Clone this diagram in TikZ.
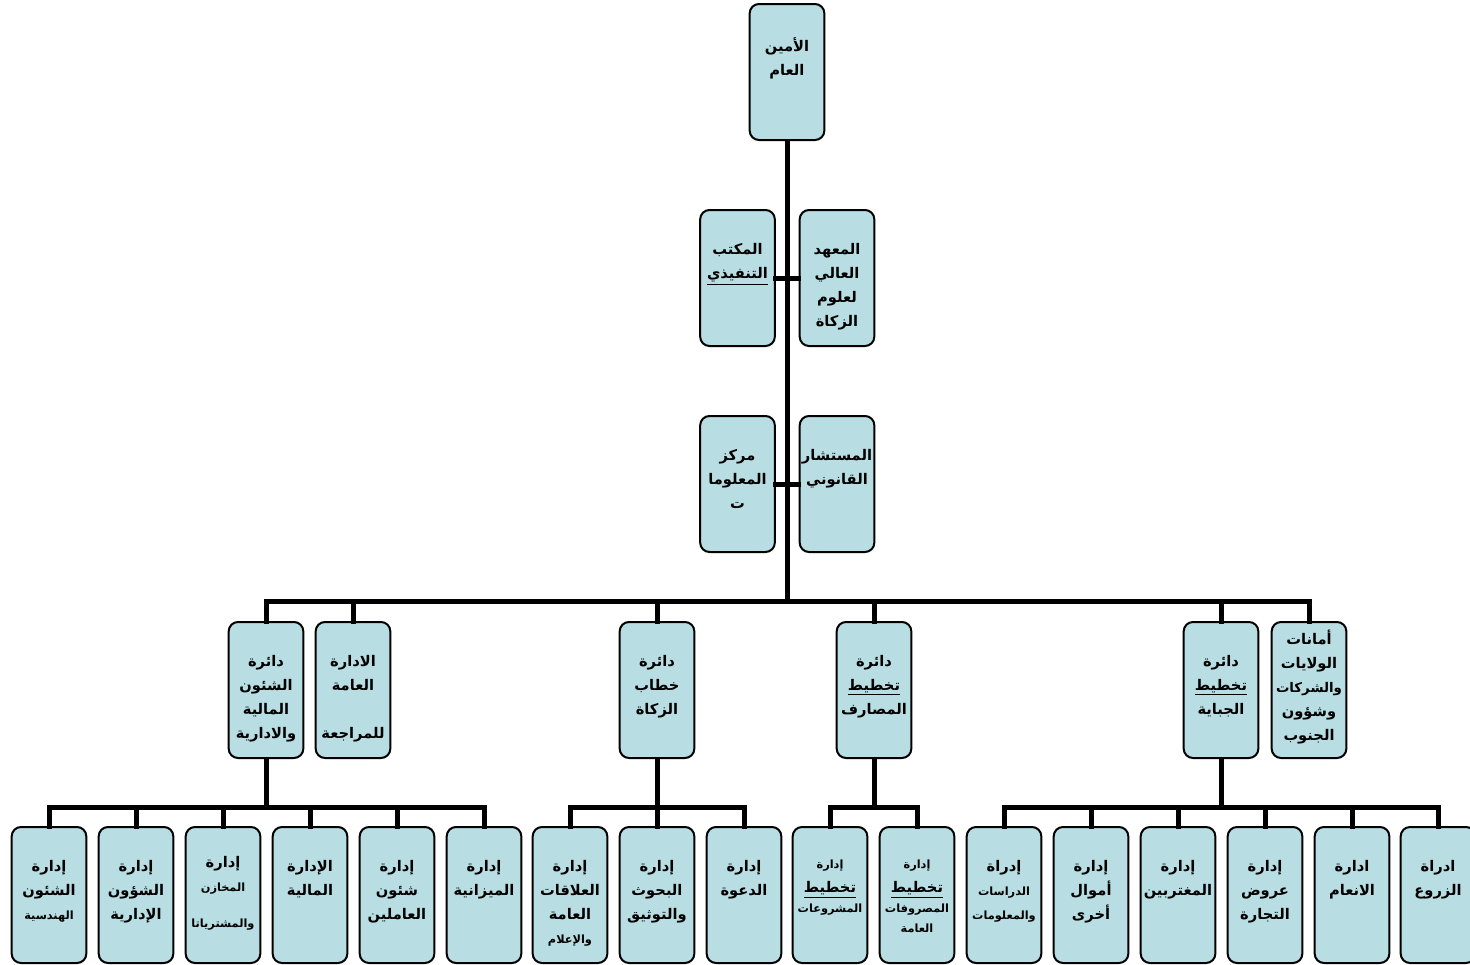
\documentclass[tikz,border=0pt]{standalone}
\usepackage{fontspec}
\newfontfamily\arabicfont[Script=Arabic]{DejaVu Sans}
\TeXXeTstate=1
\definecolor{boxfill}{RGB}{184,222,227}
\newcommand\rl[1]{\beginR#1\endR}
\newcommand\ulr[1]{\underline{\hbox{\beginR#1\endR}}}
\newcommand\sm[1]{{\fontsize{8.5}{18}\selectfont\beginR#1\endR}}
\newcommand\md[1]{{\fontsize{10}{18}\selectfont\beginR#1\endR}}
\tikzset{
  unit/.style={draw=black, line width=1.5pt, rounded corners=7pt, fill=boxfill,
    minimum width=56pt, minimum height=102pt, inner sep=0pt},
  txt/.style={anchor=north, yshift=-25.5pt, align=center, inner sep=0pt,
    font=\arabicfont\bfseries\fontsize{11}{18}\selectfont},
  link/.style={line width=3.75pt, line cap=rect}
}
\begin{document}
\begin{tikzpicture}[x=0.75pt,y=-0.75pt]
  \useasboundingbox (0,0) rectangle (1470,964);

  % top
  \node[unit, label={[txt]north:{\rl{الأمين}\\\rl{العام}}}] (gs) at (787,72) {};

  % staff units beside the trunk
  \node[unit, label={[txt]north:{\rl{المكتب}\\\ulr{التنفيذي}}}] (exec) at (737.5,278) {};
  \node[unit, label={[txt]north:{\rl{المعهد}\\\rl{العالي}\\\rl{لعلوم}\\\rl{الزكاة}}}] (inst) at (837,278) {};
  \node[unit, label={[txt]north:{\rl{مركز}\\\rl{المعلوما}\\\rl{ت}}}] (info) at (737.5,484) {};
  \node[unit, label={[txt]north:{\rl{المستشار}\\\rl{القانوني}}}] (legal) at (837,484) {};

  % circles
  \node[unit, label={[txt]north:{\rl{دائرة}\\\rl{الشئون}\\\rl{المالية}\\\rl{والادارية}}}] (fin) at (266,690) {};
  \node[unit, label={[txt]north:{\rl{الادارة}\\\rl{العامة}\\ \\\rl{للمراجعة}}}] (audit) at (353,690) {};
  \node[unit, label={[txt]north:{\rl{دائرة}\\\rl{خطاب}\\\rl{الزكاة}}}] (khitab) at (657,690) {};
  \node[unit, label={[txt]north:{\rl{دائرة}\\\ulr{تخطيط}\\\rl{المصارف}}}] (masarif) at (874,690) {};
  \node[unit, label={[txt]north:{\rl{دائرة}\\\ulr{تخطيط}\\\rl{الجباية}}}] (jibaya) at (1221,690) {};
  \node[unit, label={[txt, yshift=19pt]north:{\rl{أمانات}\\\rl{الولايات}\\\md{والشركات}\\\rl{وشؤون}\\\rl{الجنوب}}}] (states) at (1309,690) {};

  % departments of the finance circle
  \node[unit, label={[txt]north:{\rl{إدارة}\\\rl{الشئون}\\\sm{الهندسية}}}] (eng) at (49,895) {};
  \node[unit, label={[txt]north:{\rl{إدارة}\\\rl{الشؤون}\\\rl{الإدارية}}}] (admin) at (136,895) {};
  \node[unit, label={[txt, yshift=3pt]north:{\rl{إدارة}\\\sm{المخازن}\\[9pt]\sm{والمشترياتا}}}] (stores) at (223,895) {};
  \node[unit, label={[txt]north:{\rl{الإدارة}\\\rl{المالية}}}] (finad) at (310,895) {};
  \node[unit, label={[txt]north:{\rl{إدارة}\\\rl{شئون}\\\rl{العاملين}}}] (staff) at (397,895) {};
  \node[unit, label={[txt]north:{\rl{إدارة}\\\rl{الميزانية}}}] (budget) at (484,895) {};

  % departments of the zakat speech circle
  \node[unit, label={[txt]north:{\rl{إدارة}\\\rl{العلاقات}\\\rl{العامة}\\\sm{والإعلام}}}] (pr) at (570,895) {};
  \node[unit, label={[txt]north:{\rl{إدارة}\\\rl{البحوث}\\\rl{والتوثيق}}}] (research) at (657,895) {};
  \node[unit, label={[txt]north:{\rl{إدارة}\\\rl{الدعوة}}}] (dawa) at (744,895) {};

  % departments of the spending circle
  \node[unit, label={[txt]north:{\sm{إدارة}\\\ulr{تخطيط}\\[-3pt]\sm{المشروعات}}}] (projects) at (830,895) {};
  \node[unit, label={[txt]north:{\sm{إدارة}\\\ulr{تخطيط}\\[-3pt]\sm{المصروفات}\\[-3pt]\sm{العامة}}}] (expend) at (917,895) {};

  % departments of the collection circle
  \node[unit, label={[txt]north:{\rl{إدراة}\\\sm{الدراسات}\\\sm{والمعلومات}}}] (studies) at (1004,895) {};
  \node[unit, label={[txt]north:{\rl{إدارة}\\\rl{أموال}\\\rl{أخرى}}}] (other) at (1091,895) {};
  \node[unit, label={[txt]north:{\rl{إدارة}\\\rl{المغتربين}}}] (expat) at (1178,895) {};
  \node[unit, label={[txt]north:{\rl{إدارة}\\\rl{عروض}\\\rl{التجارة}}}] (trade) at (1265,895) {};
  \node[unit, label={[txt]north:{\rl{ادارة}\\\rl{الانعام}}}] (livestock) at (1352,895) {};
  \node[unit, label={[txt]north:{\rl{ادراة}\\\rl{الزروع}}}] (crops) at (1438,895) {};

  % trunk and main bus
  \coordinate (bus) at (787,601);
  \draw[link] (gs.south) -- (gs.south |- bus);
  \draw[link] (exec.east) -- (inst.west);
  \draw[link] (info.east) -- (legal.west);
  \draw[link] (fin.north |- bus) -- (states.north |- bus);
  \draw[link] (fin.north) -- (fin.north |- bus);
  \draw[link] (audit.north) -- (audit.north |- bus);
  \draw[link] (khitab.north) -- (khitab.north |- bus);
  \draw[link] (masarif.north) -- (masarif.north |- bus);
  \draw[link] (jibaya.north) -- (jibaya.north |- bus);
  \draw[link] (states.north) -- (states.north |- bus);

  % lower buses
  \coordinate (sub) at (0,807);
  \draw[link] (fin.south) -- (fin.south |- sub);
  \draw[link] (eng.north |- sub) -- (budget.north |- sub);
  \draw[link] (eng.north) -- (eng.north |- sub);
  \draw[link] (admin.north) -- (admin.north |- sub);
  \draw[link] (stores.north) -- (stores.north |- sub);
  \draw[link] (finad.north) -- (finad.north |- sub);
  \draw[link] (staff.north) -- (staff.north |- sub);
  \draw[link] (budget.north) -- (budget.north |- sub);

  \draw[link] (khitab.south) -- (khitab.south |- sub);
  \draw[link] (pr.north |- sub) -- (dawa.north |- sub);
  \draw[link] (pr.north) -- (pr.north |- sub);
  \draw[link] (research.north) -- (research.north |- sub);
  \draw[link] (dawa.north) -- (dawa.north |- sub);

  \draw[link] (masarif.south) -- (masarif.south |- sub);
  \draw[link] (projects.north |- sub) -- (expend.north |- sub);
  \draw[link] (projects.north) -- (projects.north |- sub);
  \draw[link] (expend.north) -- (expend.north |- sub);

  \draw[link] (jibaya.south) -- (jibaya.south |- sub);
  \draw[link] (studies.north |- sub) -- (crops.north |- sub);
  \draw[link] (studies.north) -- (studies.north |- sub);
  \draw[link] (other.north) -- (other.north |- sub);
  \draw[link] (expat.north) -- (expat.north |- sub);
  \draw[link] (trade.north) -- (trade.north |- sub);
  \draw[link] (livestock.north) -- (livestock.north |- sub);
  \draw[link] (crops.north) -- (crops.north |- sub);

\end{tikzpicture}
\end{document}
